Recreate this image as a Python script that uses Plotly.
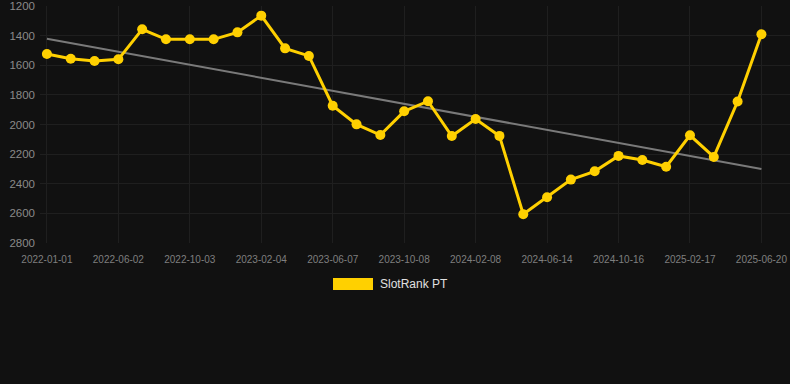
import plotly.graph_objects as go

dates = ["2022-01-01", "2022-02-20", "2022-04-11", "2022-06-02", "2022-07-13", "2022-08-23",
         "2022-10-03", "2022-11-13", "2022-12-25", "2023-02-04", "2023-03-17", "2023-04-27",
         "2023-06-07", "2023-07-18", "2023-08-28", "2023-10-08", "2023-11-18", "2023-12-29",
         "2024-02-08", "2024-03-20", "2024-05-03", "2024-06-14", "2024-07-25", "2024-09-04",
         "2024-10-16", "2024-11-26", "2025-01-06", "2025-02-17", "2025-03-30", "2025-05-10",
         "2025-06-20"]
rank = [1524, 1556, 1571, 1560, 1357, 1425, 1425, 1425, 1378, 1265, 1486, 1537,
        1873, 1999, 2071, 1911, 1843, 2078, 1963, 2077, 2606, 2491, 2372, 2316,
        2212, 2240, 2285, 2073, 2219, 1845, 1391]
trend_x = [dates[0], dates[-1]]
trend_y = [1421, 2300]
tick_labels = dates[::3]
y_ticks = [1200, 1400, 1600, 1800, 2000, 2200, 2400, 2600, 2800]
series_name = "SlotRank PT"

YELLOW = "#FFD000"
BG = "#111111"
GRID = "#1f1f1f"
FONT = "Liberation Sans, Arial, sans-serif"

fig = go.Figure()
fig.add_trace(go.Scatter(x=trend_x, y=trend_y, mode="lines",
                         line=dict(color="#7a7a7a", width=2), showlegend=False,
                         hoverinfo="skip"))
fig.add_trace(go.Scatter(x=dates, y=rank, mode="lines+markers", name=series_name,
                         line=dict(color=YELLOW, width=3),
                         marker=dict(color=YELLOW, size=10), showlegend=False))

# legend drawn as a box + label
fig.add_shape(type="rect", xref="paper", yref="paper",
              x0=(333 - 40) / 750, x1=(373 - 40) / 750,
              y0=(243 - 290) / 237, y1=(243 - 278) / 237,
              fillcolor=YELLOW, line=dict(width=0))
fig.add_annotation(xref="paper", yref="paper", x=(378 - 40) / 750, y=(243 - 284) / 237,
                   text=series_name, showarrow=False, xanchor="left", yanchor="middle",
                   font=dict(family=FONT, size=12, color="#e0e0e0"))

fig.update_layout(
    width=790, height=384,
    margin=dict(l=40, r=0, t=6, b=141),
    paper_bgcolor=BG, plot_bgcolor=BG,
    font=dict(family=FONT),
    xaxis=dict(type="category", categoryorder="array", categoryarray=dates,
               tickvals=tick_labels, ticktext=tick_labels,
               range=[-0.29, 31.2], showgrid=True, gridcolor=GRID, gridwidth=1,
               zeroline=False, showline=False, ticks="",
               tickfont=dict(size=10, color="#7f7f7f"), ticklabelstandoff=9),
    yaxis=dict(range=[2800, 1200], tickvals=y_ticks, showgrid=True,
               gridcolor=GRID, gridwidth=1, zeroline=False, showline=False,
               ticks="", tickfont=dict(size=11.5, color="#8a8a8a"),
               ticklabelstandoff=4),
)

fig.write_html("out.html", config={"displayModeBar": False},
               post_script="document.body.style.margin='0';"
                           "document.body.style.background='#111111';")
